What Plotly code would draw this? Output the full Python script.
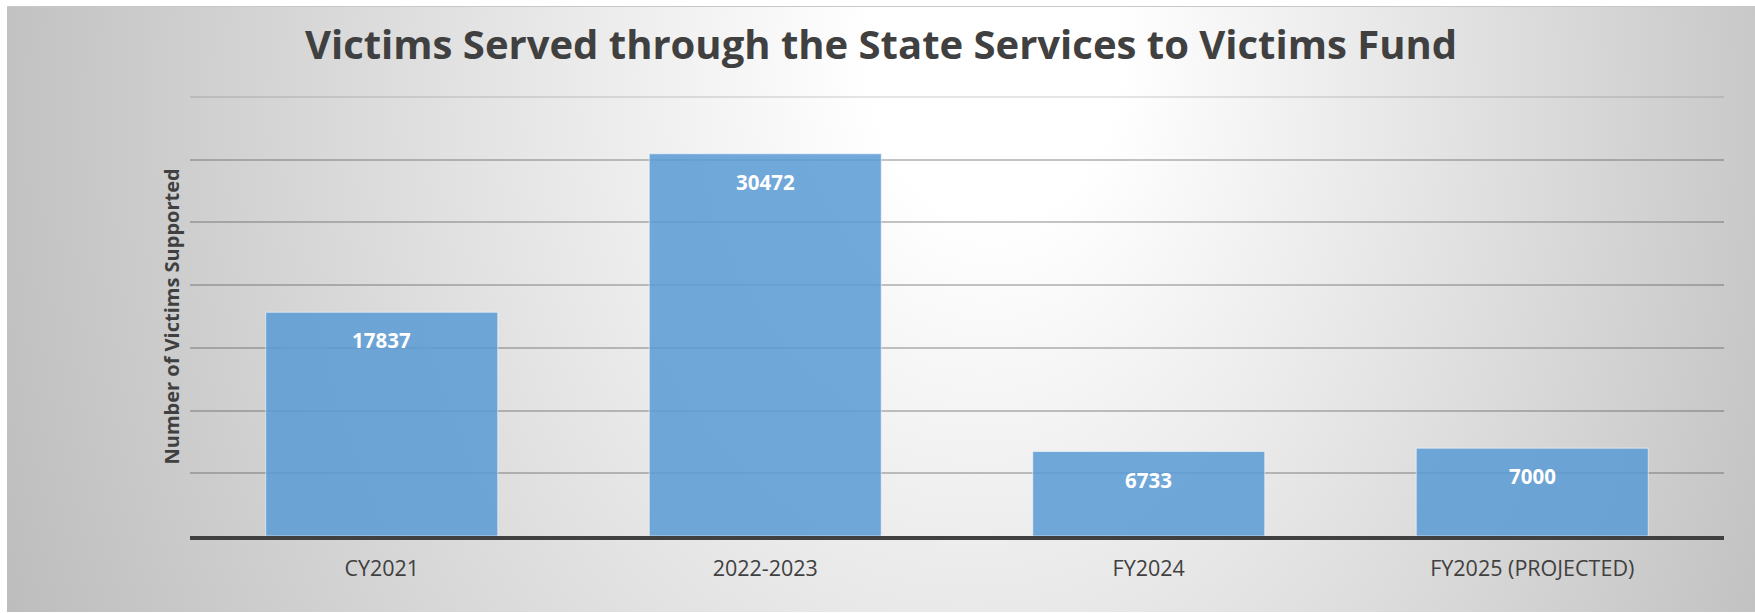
import base64
import plotly.graph_objects as go

# ---- data ----
categories = ["CY2021", "2022-2023", "FY2024", "FY2025 (PROJECTED)"]
victims = [17837, 30472, 6733, 7000]
title_text = "Victims Served through the State Services to Victims Fund"
y_title = "Number of Victims Supported"

# ---- layout geometry (pixels) ----
W, H = 1755, 613
PL, PR, PT, PB = 190, 1724, 97, 536
BG_X0, BG_Y0, BG_X1, BG_Y1 = 7, 6, 1755, 612

pw, ph = PR - PL, PB - PT
bw, bh = BG_X1 - BG_X0, BG_Y1 - BG_Y0

s = 1.3
svg = f'''<svg xmlns="http://www.w3.org/2000/svg" width="{bw}" height="{bh}" viewBox="0 0 {bw} {bh}" preserveAspectRatio="none">
<defs>
<radialGradient id="g" gradientUnits="userSpaceOnUse" cx="880" cy="{150/s:.1f}" r="1250" fx="1000" fy="{40/s:.1f}" gradientTransform="scale(1,{s})">
<stop offset="0" stop-color="#ffffff"/>
<stop offset="0.1" stop-color="#ffffff"/>
<stop offset="1" stop-color="#a8a8a8"/>
</radialGradient>
</defs>
<rect x="0" y="0" width="{bw}" height="{bh}" fill="url(#g)"/>
<line x1="0" y1="0.5" x2="{bw}" y2="0.5" stroke="#c8c8c8" stroke-width="1"/>
</svg>'''
bg_uri = "data:image/svg+xml;base64," + base64.b64encode(svg.encode()).decode()

FONT = "Open Sans"
DARK = "#404040"

fig = go.Figure()
fig.add_trace(go.Bar(
    x=categories, y=victims, width=0.605,
    marker=dict(color="rgba(91,155,213,0.86)",
                line=dict(color="rgba(255,255,255,0.55)", width=1)),
    hoverinfo="x+y",
))

for c, v in zip(categories, victims):
    fig.add_annotation(x=c, y=v, text=f"<b>{v}</b>", showarrow=False,
                       yshift=-28, yanchor="middle",
                       font=dict(family=FONT, size=20.5, color="white"))

fig.add_annotation(xref="paper", yref="paper",
                   x=(171 - PL) / pw, y=0.5, text=f"<b>{y_title}</b>",
                   textangle=-90, showarrow=False, xanchor="center", yanchor="middle",
                   font=dict(family=FONT, size=20, color=DARK))

fig.add_layout_image(dict(
    source=bg_uri, xref="paper", yref="paper",
    x=(BG_X0 - PL) / pw, y=(PB - BG_Y0) / ph,
    sizex=bw / pw, sizey=bh / ph,
    xanchor="left", yanchor="top", sizing="stretch", layer="below",
))

fig.update_layout(
    width=W, height=H,
    margin=dict(l=PL, r=W - PR, t=PT, b=H - PB, pad=0),
    paper_bgcolor="white", plot_bgcolor="rgba(0,0,0,0)",
    showlegend=False,
    title=dict(text=f"<b>{title_text}</b>", x=881 / W, xanchor="center",
               y=1 - 45 / H, yanchor="middle", yref="container",
               font=dict(family=FONT, size=40, color=DARK)),
    xaxis=dict(showline=True, linecolor=DARK, linewidth=4,
               ticks="outside", ticklen=10, tickcolor="rgba(0,0,0,0)",
               tickfont=dict(family=FONT, size=21.5, color=DARK),
               showgrid=False, fixedrange=True),
    yaxis=dict(range=[0, 35000], dtick=5000, tick0=0,
               showticklabels=False, ticks="",
               showgrid=True, gridcolor="rgba(70,70,70,0.32)", gridwidth=2,
               zeroline=False, showline=False, fixedrange=True),
    shapes=[dict(type="line", xref="paper", yref="paper", x0=0, x1=1, y0=1, y1=1,
                 line=dict(color="rgba(70,70,70,0.14)", width=2), layer="below")],
)

fig.write_html("out.html", config={"displayModeBar": False},
               post_script="document.body.style.margin='0';document.body.style.overflow='hidden';")
